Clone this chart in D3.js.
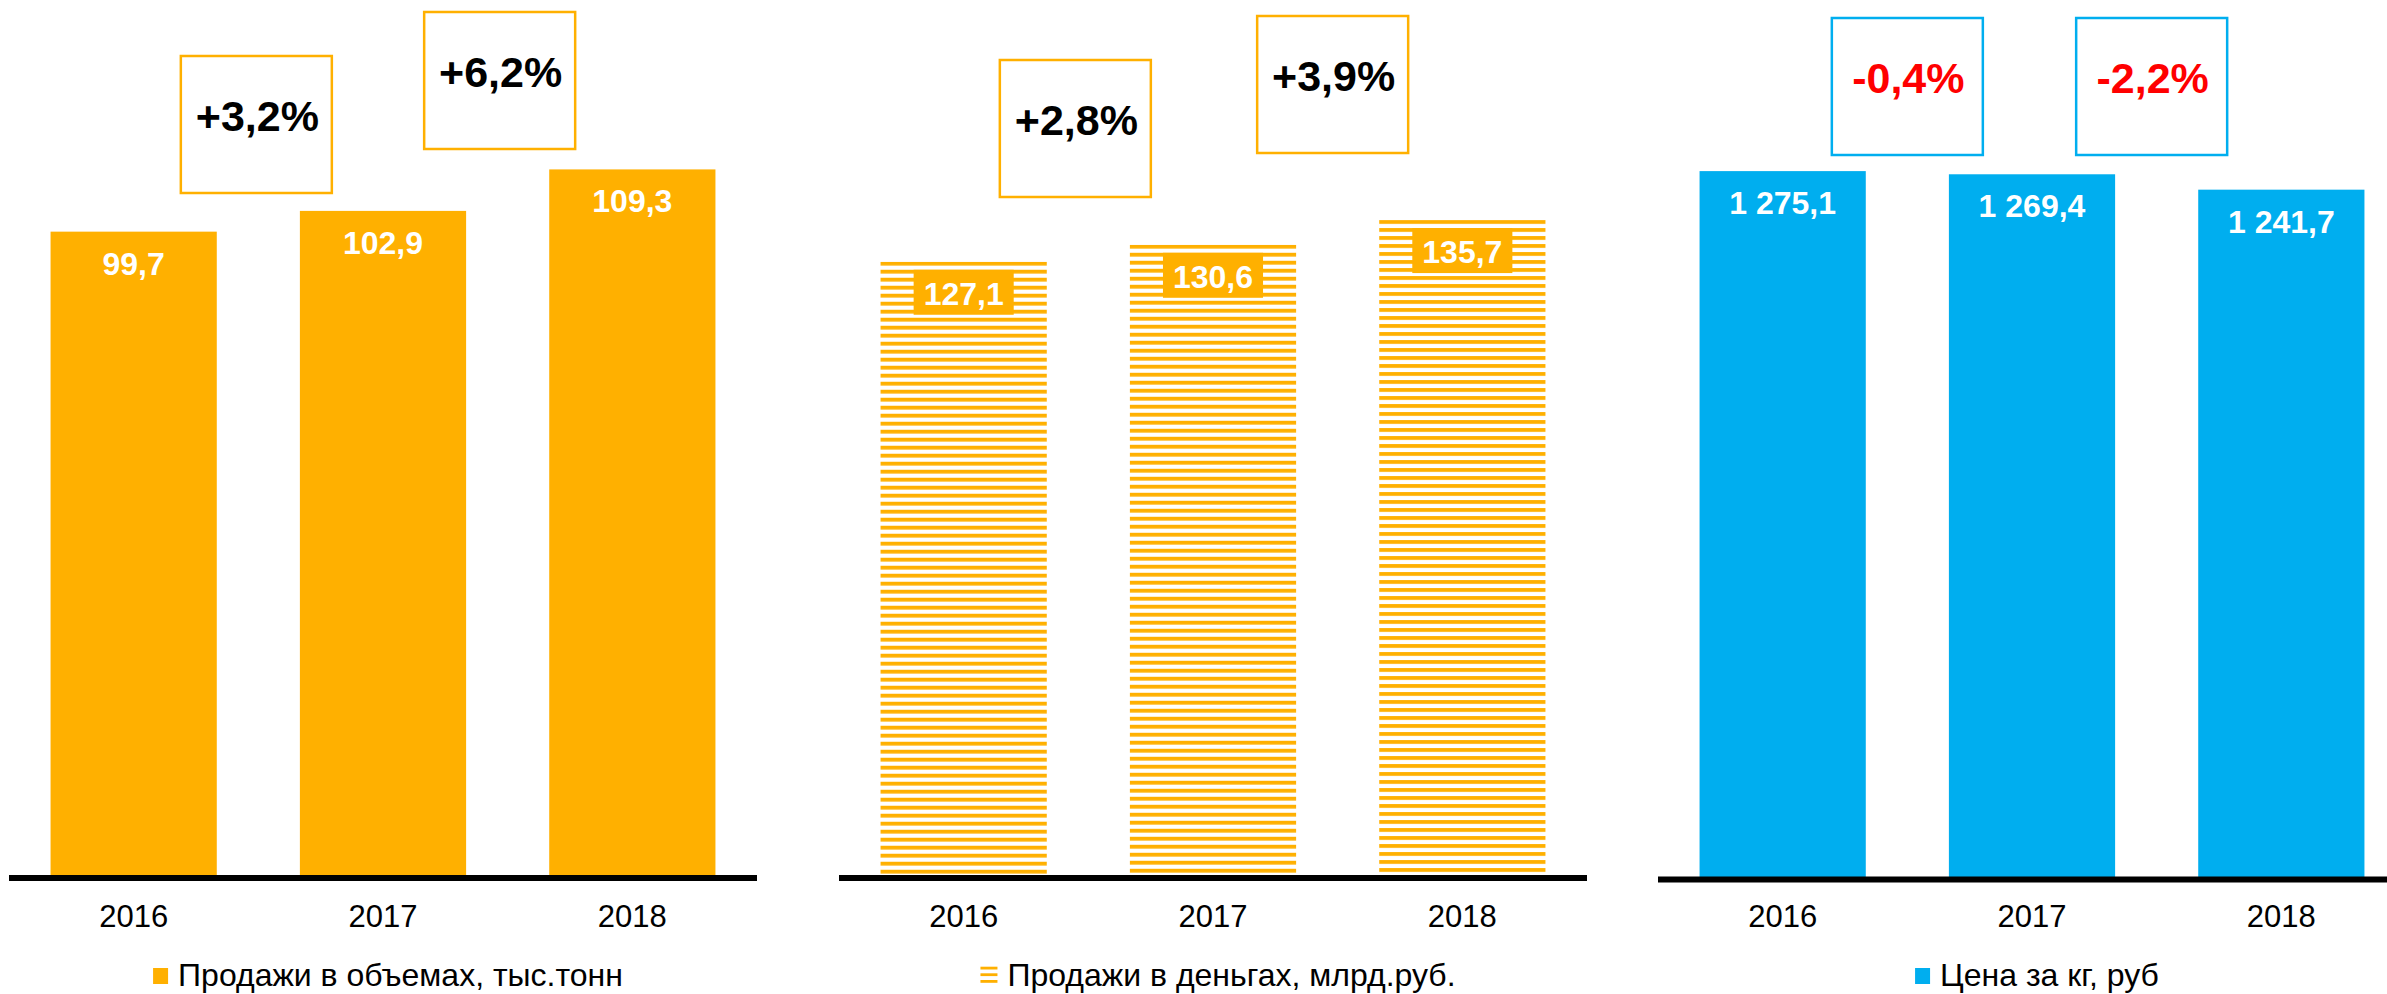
<!DOCTYPE html>
<html>
<head>
<meta charset="utf-8">
<script src="https://cdn.jsdelivr.net/npm/d3@7"></script>
<style>
  html, body { margin: 0; padding: 0; background: #ffffff; }
  svg { display: block; font-family: "Liberation Sans", Arial, Helvetica, sans-serif; }
</style>
</head>
<body>
<svg id="chart" width="2387" height="994"></svg>
<script>
// Years shown on every panel
const years = ["2016", "2017", "2018"];

// Sales volume, thousand tonnes
const volumeValues = [99.7, 102.9, 109.3];
// Sales in money, billion rubles
const moneyValues = [127.1, 130.6, 135.7];
// Price per kg, rubles
const priceValues = [1275.1, 1269.4, 1241.7];

// Year-over-year changes shown in the callout boxes
const volumeChanges = ["+3,2%", "+6,2%"];
const moneyChanges = ["+2,8%", "+3,9%"];
const priceChanges = ["-0,4%", "-2,2%"];

// Legend captions
const legendLabels = [
  "Продажи в объемах, тыс.тонн",
  "Продажи в деньгах, млрд.руб.",
  "Цена за кг, руб"
];

const ORANGE = "#FFB000";
const BLUE = "#00AEEF";
const RED = "#FF0000";

const ru = d3.formatLocale({ decimal: ",", thousands: " ", grouping: [3], currency: ["", " ₽"] });
const fmt = ru.format(",.1f");

// Panel layout
const panels = [
  { values: volumeValues, changes: volumeChanges, legend: legendLabels[0], kind: "solid",
    color: ORANGE, boxColor: ORANGE, changeColor: "#000000",
    x0: 9, width: 748, zero: 878, yMax: 123.4,
    boxTops: [56, 12], boxDx: [-2, -8] },
  { values: moneyValues, changes: moneyChanges, legend: legendLabels[1], kind: "striped",
    color: ORANGE, boxColor: ORANGE, changeColor: "#000000",
    x0: 839, width: 748, zero: 878, yMax: 165.0,
    boxTops: [60, 16], boxDx: [-13, -5] },
  { values: priceValues, changes: priceChanges, legend: legendLabels[2], kind: "solid",
    color: BLUE, boxColor: BLUE, changeColor: RED,
    x0: 1658, width: 748, zero: 879.5, yMax: 1440,
    boxTops: [18, 18], boxDx: [0, -5] }
];

const svg = d3.select("#chart");
const defs = svg.append("defs");
const PLOT_H = 800;
const BOX_W = 151, BOX_H = 137;

panels.forEach((p, pi) => {
  const g = svg.append("g").attr("class", "panel-" + pi);

  const x = d3.scaleBand()
    .domain(years)
    .range([p.x0, p.x0 + p.width])
    .paddingInner(1 / 3)
    .paddingOuter(1 / 6);

  const y = d3.scaleLinear()
    .domain([0, p.yMax])
    .range([p.zero, p.zero - PLOT_H]);

  const data = years.map((yr, i) => ({ year: yr, value: p.values[i], i }));

  // Stripe patterns, one per bar so each starts with a stripe at the bar top
  if (p.kind === "striped") {
    data.forEach(d => {
      const pat = defs.append("pattern")
        .attr("id", `stripe-${pi}-${d.i}`)
        .attr("patternUnits", "userSpaceOnUse")
        .attr("x", 0)
        .attr("y", y(d.value))
        .attr("width", 10)
        .attr("height", 8);
      pat.append("rect")
        .attr("x", 0).attr("y", 0)
        .attr("width", 10).attr("height", 3.8)
        .attr("fill", p.color);
    });
  }

  // Bars
  g.selectAll("rect.bar")
    .data(data)
    .join("rect")
    .attr("class", "bar")
    .attr("x", d => x(d.year))
    .attr("width", x.bandwidth())
    .attr("y", d => y(d.value))
    .attr("height", d => y(0) - y(d.value))
    .attr("fill", d => p.kind === "striped" ? `url(#stripe-${pi}-${d.i})` : p.color);

  // Value labels
  const labels = g.selectAll("g.vlabel")
    .data(data)
    .join("g")
    .attr("class", "vlabel");

  labels.each(function (d) {
    const lg = d3.select(this);
    const cx = x(d.year) + x.bandwidth() / 2;
    const base = y(d.value) + 43;
    const bg = p.kind === "striped" ? lg.append("rect").attr("fill", p.color) : null;
    const t = lg.append("text")
      .attr("x", cx)
      .attr("y", base)
      .attr("text-anchor", "middle")
      .attr("fill", "#ffffff")
      .attr("font-weight", "bold")
      .attr("font-size", 32)
      .text(fmt(d.value));
    if (bg) {
      const w = t.node().getComputedTextLength() + 20;
      bg.attr("x", cx - w / 2).attr("y", base - 35).attr("width", w).attr("height", 45);
    }
  });

  // Axis baseline with year ticks
  const axis = d3.axisBottom(x).tickSize(0).tickPadding(0);
  const ag = g.append("g")
    .attr("transform", `translate(0,${p.zero})`)
    .call(axis);
  ag.select(".domain")
    .attr("stroke", "#000000")
    .attr("stroke-width", 6)
    .attr("d", `M${p.x0},0H${p.x0 + p.width}`);
  ag.selectAll(".tick text")
    .attr("y", 927 - p.zero)
    .attr("dy", null)
    .attr("font-size", 31)
    .attr("font-family", "\"Liberation Sans\", Arial, sans-serif")
    .attr("fill", "#000000");

  // Change callout boxes between consecutive years
  p.changes.forEach((c, ci) => {
    const c1 = x(years[ci]) + x.bandwidth() / 2;
    const c2 = x(years[ci + 1]) + x.bandwidth() / 2;
    const cx = (c1 + c2) / 2 + p.boxDx[ci];
    const top = p.boxTops[ci];
    g.append("rect")
      .attr("x", cx - BOX_W / 2)
      .attr("y", top)
      .attr("width", BOX_W)
      .attr("height", BOX_H)
      .attr("fill", "#ffffff")
      .attr("stroke", p.boxColor)
      .attr("stroke-width", 2.5);
    g.append("text")
      .attr("x", cx + 1)
      .attr("y", top + 75)
      .attr("text-anchor", "middle")
      .attr("font-weight", "bold")
      .attr("font-size", 43)
      .attr("fill", p.changeColor)
      .text(c);
  });

  // Legend, centred under the panel
  const lg = g.append("g");
  if (p.kind === "striped") {
    [966.7, 973.3, 980].forEach(ly => {
      lg.append("rect").attr("x", 0).attr("y", ly).attr("width", 17).attr("height", 2.8).attr("fill", p.color);
    });
  } else {
    lg.append("rect").attr("x", 0).attr("y", 968).attr("width", 15).attr("height", 16).attr("fill", p.color);
  }
  const iconW = p.kind === "striped" ? 17 : 15;
  const lt = lg.append("text")
    .attr("x", iconW + 10)
    .attr("y", 986)
    .attr("font-size", 32)
    .attr("fill", "#000000")
    .text(p.legend);
  const totalW = iconW + 10 + lt.node().getComputedTextLength();
  const center = p.x0 + p.width / 2 + 5;
  lg.attr("transform", `translate(${center - totalW / 2},0)`);
});
</script>
</body>
</html>
